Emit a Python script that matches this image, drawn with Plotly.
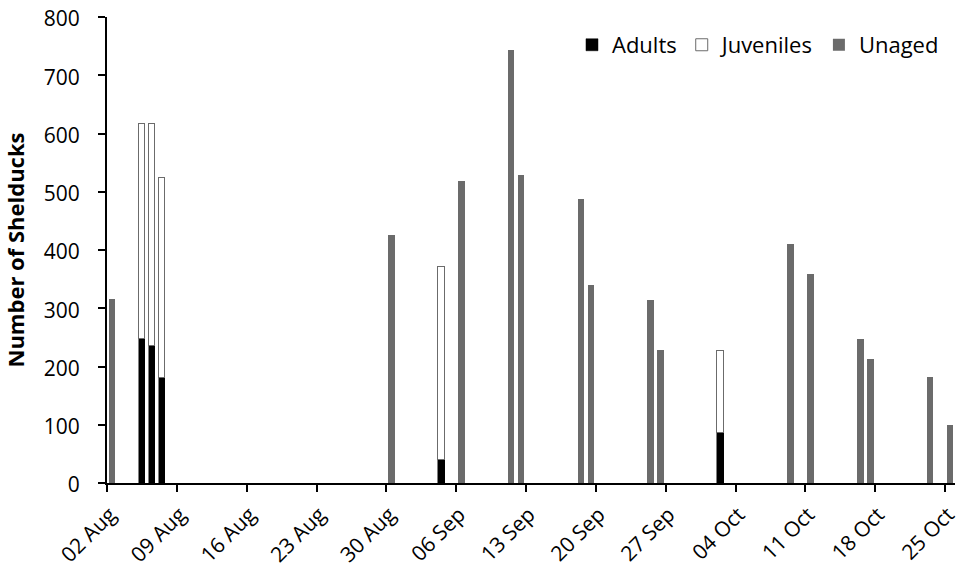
import plotly.graph_objects as go

# Aged counts (stacked): adults at bottom, juveniles on top
aged_dates = ["2010-08-05", "2010-08-06", "2010-08-07", "2010-09-04", "2010-10-02"]
adults = [247, 236, 180, 39, 85]
juveniles = [370, 381, 343, 331, 141]

# Unaged counts
unaged_dates = ["2010-08-02", "2010-08-30", "2010-09-06", "2010-09-11", "2010-09-12",
                "2010-09-18", "2010-09-19", "2010-09-25", "2010-09-26", "2010-10-09",
                "2010-10-11", "2010-10-16", "2010-10-17", "2010-10-23", "2010-10-25"]
unaged = [316, 425, 518, 743, 529, 488, 340, 314, 228, 410, 359, 247, 213, 182, 99]

DAY = 86400000
FONT = "Open Sans"

fig = go.Figure()
common = dict(xperiod=DAY, xperiodalignment="middle", width=0.67 * DAY)
fig.add_trace(go.Bar(x=aged_dates, y=adults, name="Adults",
                     marker=dict(color="#000000", line=dict(color="#000000", width=0.5)), **common))
fig.add_trace(go.Bar(x=aged_dates, y=juveniles, name="Juveniles",
                     marker=dict(color="#ffffff", line=dict(color="#6b6b6b", width=1)), **common))
fig.add_trace(go.Bar(x=unaged_dates, y=unaged, name="Unaged",
                     marker=dict(color="#6b6b6b", line=dict(color="#6b6b6b", width=0)), **common))

fig.update_layout(
    barmode="stack",
    width=963, height=571,
    margin=dict(l=107, r=8, t=17, b=88, autoexpand=False),
    plot_bgcolor="white", paper_bgcolor="white",
    font=dict(family=FONT, size=21, color="#000000"),
    legend=dict(orientation="h", x=0.987, xanchor="right", y=0.94, yanchor="middle",
                font=dict(family=FONT, size=22), traceorder="normal",
                itemwidth=30, bgcolor="rgba(0,0,0,0)"),
    bargap=0,
)
fig.update_xaxes(
    type="date", range=["2010-08-02", "2010-10-26"],
    tick0="2010-08-02", dtick=7 * DAY, tickformat="%d %b", tickangle=-45,
    showline=True, linecolor="#000000", linewidth=2,
    ticks="outside", ticklen=7, tickwidth=2, tickcolor="#000000",
    showgrid=False, zeroline=False, automargin=False,
    ticklabelshift=3, ticklabelstandoff=2, ticklabeloverflow="allow",
    tickfont=dict(family=FONT, size=21),
)
fig.update_yaxes(
    range=[0, 800], dtick=100,
    showline=True, linecolor="#000000", linewidth=2,
    ticks="outside", ticklen=7, tickwidth=2, tickcolor="#000000",
    showgrid=False, zeroline=False, automargin=False,
    ticklabelstandoff=14, ticklabelshift=2, ticklabeloverflow="allow",
    tickfont=dict(family=FONT, size=21),
    title=dict(text="<b>Number of Shelducks</b>", font=dict(family=FONT, size=22), standoff=24),
)

# remove the default 8px page margin so the figure fills the window exactly
fig.write_html("out.html", config={"displayModeBar": False},
               post_script="document.body.style.margin='0px';")
